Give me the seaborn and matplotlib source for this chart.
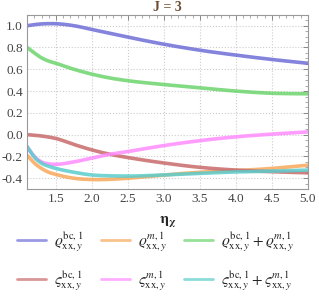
import numpy as np
import pandas as pd
import matplotlib
matplotlib.use("Agg")
import matplotlib.pyplot as plt
import seaborn as sns
from matplotlib.ticker import MultipleLocator

# values
eta = [1.1, 1.2, 1.3, 1.4, 1.5, 1.75, 2.0, 2.25, 2.5, 3.0, 3.5, 4.0, 4.5, 5.0]
rho_bc = [1.00, 1.010, 1.016, 1.019, 1.018, 1.00, 0.965, 0.93, 0.895, 0.83, 0.775, 0.73, 0.69, 0.655]
rho_m = [-0.19, -0.26, -0.31, -0.345, -0.365, -0.40, -0.412, -0.41, -0.40, -0.37, -0.345, -0.33, -0.31, -0.28]
rho_sum = [0.80, 0.75, 0.705, 0.675, 0.655, 0.60, 0.555, 0.52, 0.495, 0.46, 0.43, 0.40, 0.38, 0.375]
sig_bc = [0.0, -0.005, -0.012, -0.022, -0.035, -0.09, -0.14, -0.18, -0.21, -0.26, -0.30, -0.325, -0.34, -0.35]
sig_m = [-0.11, -0.20, -0.25, -0.268, -0.272, -0.25, -0.215, -0.18, -0.155, -0.10, -0.055, -0.02, 0.005, 0.025]
sig_sum = [-0.11, -0.205, -0.262, -0.29, -0.31, -0.345, -0.37, -0.378, -0.38, -0.37, -0.355, -0.342, -0.335, -0.325]

labels = [
    r"$\varrho^{\mathrm{bc},1}_{\mathrm{xx},y}$",
    r"$\varrho^{m,1}_{\mathrm{xx},y}$",
    r"$\varrho^{\mathrm{bc},1}_{\mathrm{xx},y} + \varrho^{m,1}_{\mathrm{xx},y}$",
    r"$\varsigma^{\mathrm{bc},1}_{\mathrm{xx},y}$",
    r"$\varsigma^{m,1}_{\mathrm{xx},y}$",
    r"$\varsigma^{\mathrm{bc},1}_{\mathrm{xx},y} + \varsigma^{m,1}_{\mathrm{xx},y}$",
]
colors = ["#6e6ed8", "#f7a85c", "#6cd46c", "#c86a6a", "#ff8cff", "#5ccccc"]
series = [rho_bc, rho_m, rho_sum, sig_bc, sig_m, sig_sum]


def smooth(xp, yp, n=20):
    # cubic hermite through the read points, just for a smooth drawing
    xp = np.asarray(xp, float)
    yp = np.asarray(yp, float)
    m = np.gradient(yp, xp)
    xo, yo = [], []
    for i in range(len(xp) - 1):
        h = xp[i + 1] - xp[i]
        t = np.linspace(0, 1, n, endpoint=False)
        h00 = 2 * t**3 - 3 * t**2 + 1
        h10 = t**3 - 2 * t**2 + t
        h01 = -2 * t**3 + 3 * t**2
        h11 = t**3 - t**2
        xo.append(xp[i] + t * h)
        yo.append(h00 * yp[i] + h10 * h * m[i] + h01 * yp[i + 1] + h11 * h * m[i + 1])
    xo.append([xp[-1]])
    yo.append([yp[-1]])
    return np.concatenate(xo), np.concatenate(yo)


sns.set_style("white")
plt.rcParams["font.family"] = ["Liberation Serif", "DejaVu Serif"]
plt.rcParams["mathtext.fontset"] = "stix"
plt.rcParams["axes.unicode_minus"] = False

fig = plt.figure(figsize=(3.19, 2.96), dpi=100)
ax = fig.add_axes([0.085, 0.361, 0.880, 0.589])

for vals, col, lab in zip(series, colors, labels):
    sx, sy = smooth(eta, vals)
    df = pd.DataFrame({"x": sx, "y": sy})
    sns.lineplot(data=df, x="x", y="y", ax=ax, color=col, lw=2.6, alpha=0.85, label=lab)

ax.set_xlim(1.1, 5.0)
ax.set_ylim(-0.5, 1.1)
ax.xaxis.set_major_locator(MultipleLocator(0.5))
ax.xaxis.set_minor_locator(MultipleLocator(0.1))
ax.yaxis.set_major_locator(MultipleLocator(0.2))
ax.yaxis.set_minor_locator(MultipleLocator(0.05))
ax.grid(True, which="major", color="#cccccc", ls=":", lw=0.8)
ax.tick_params(which="both", direction="in", top=True, right=True, color="#888888",
               labelsize=9.5, labelcolor="#444444", pad=3)
ax.tick_params(which="major", length=3.5, width=0.7)
ax.tick_params(which="minor", length=2, width=0.5)
for s in ax.spines.values():
    s.set_color("#999999")
    s.set_linewidth(0.8)

ax.set_title("J = 3", fontsize=10, fontweight="bold", color="#6e4b2c", pad=3)
ax.set_xlabel(r"$\mathbf{\eta_\chi}$", fontsize=11, labelpad=6)
ax.set_ylabel("")

handles, labs = ax.get_legend_handles_labels()
ax.get_legend().remove()
order = [0, 3, 1, 4, 2, 5]
leg = fig.legend([handles[i] for i in order], [labs[i] for i in order], ncol=3,
                 loc="lower left", bbox_to_anchor=(0.01, -0.035), frameon=False, fontsize=11,
                 handlelength=1.9, columnspacing=1.1, labelspacing=1.0, handletextpad=0.55)
for ln in leg.get_lines():
    ln.set_linewidth(2.0)
    ln.set_alpha(0.7)

fig.savefig("out.png", dpi=100)
